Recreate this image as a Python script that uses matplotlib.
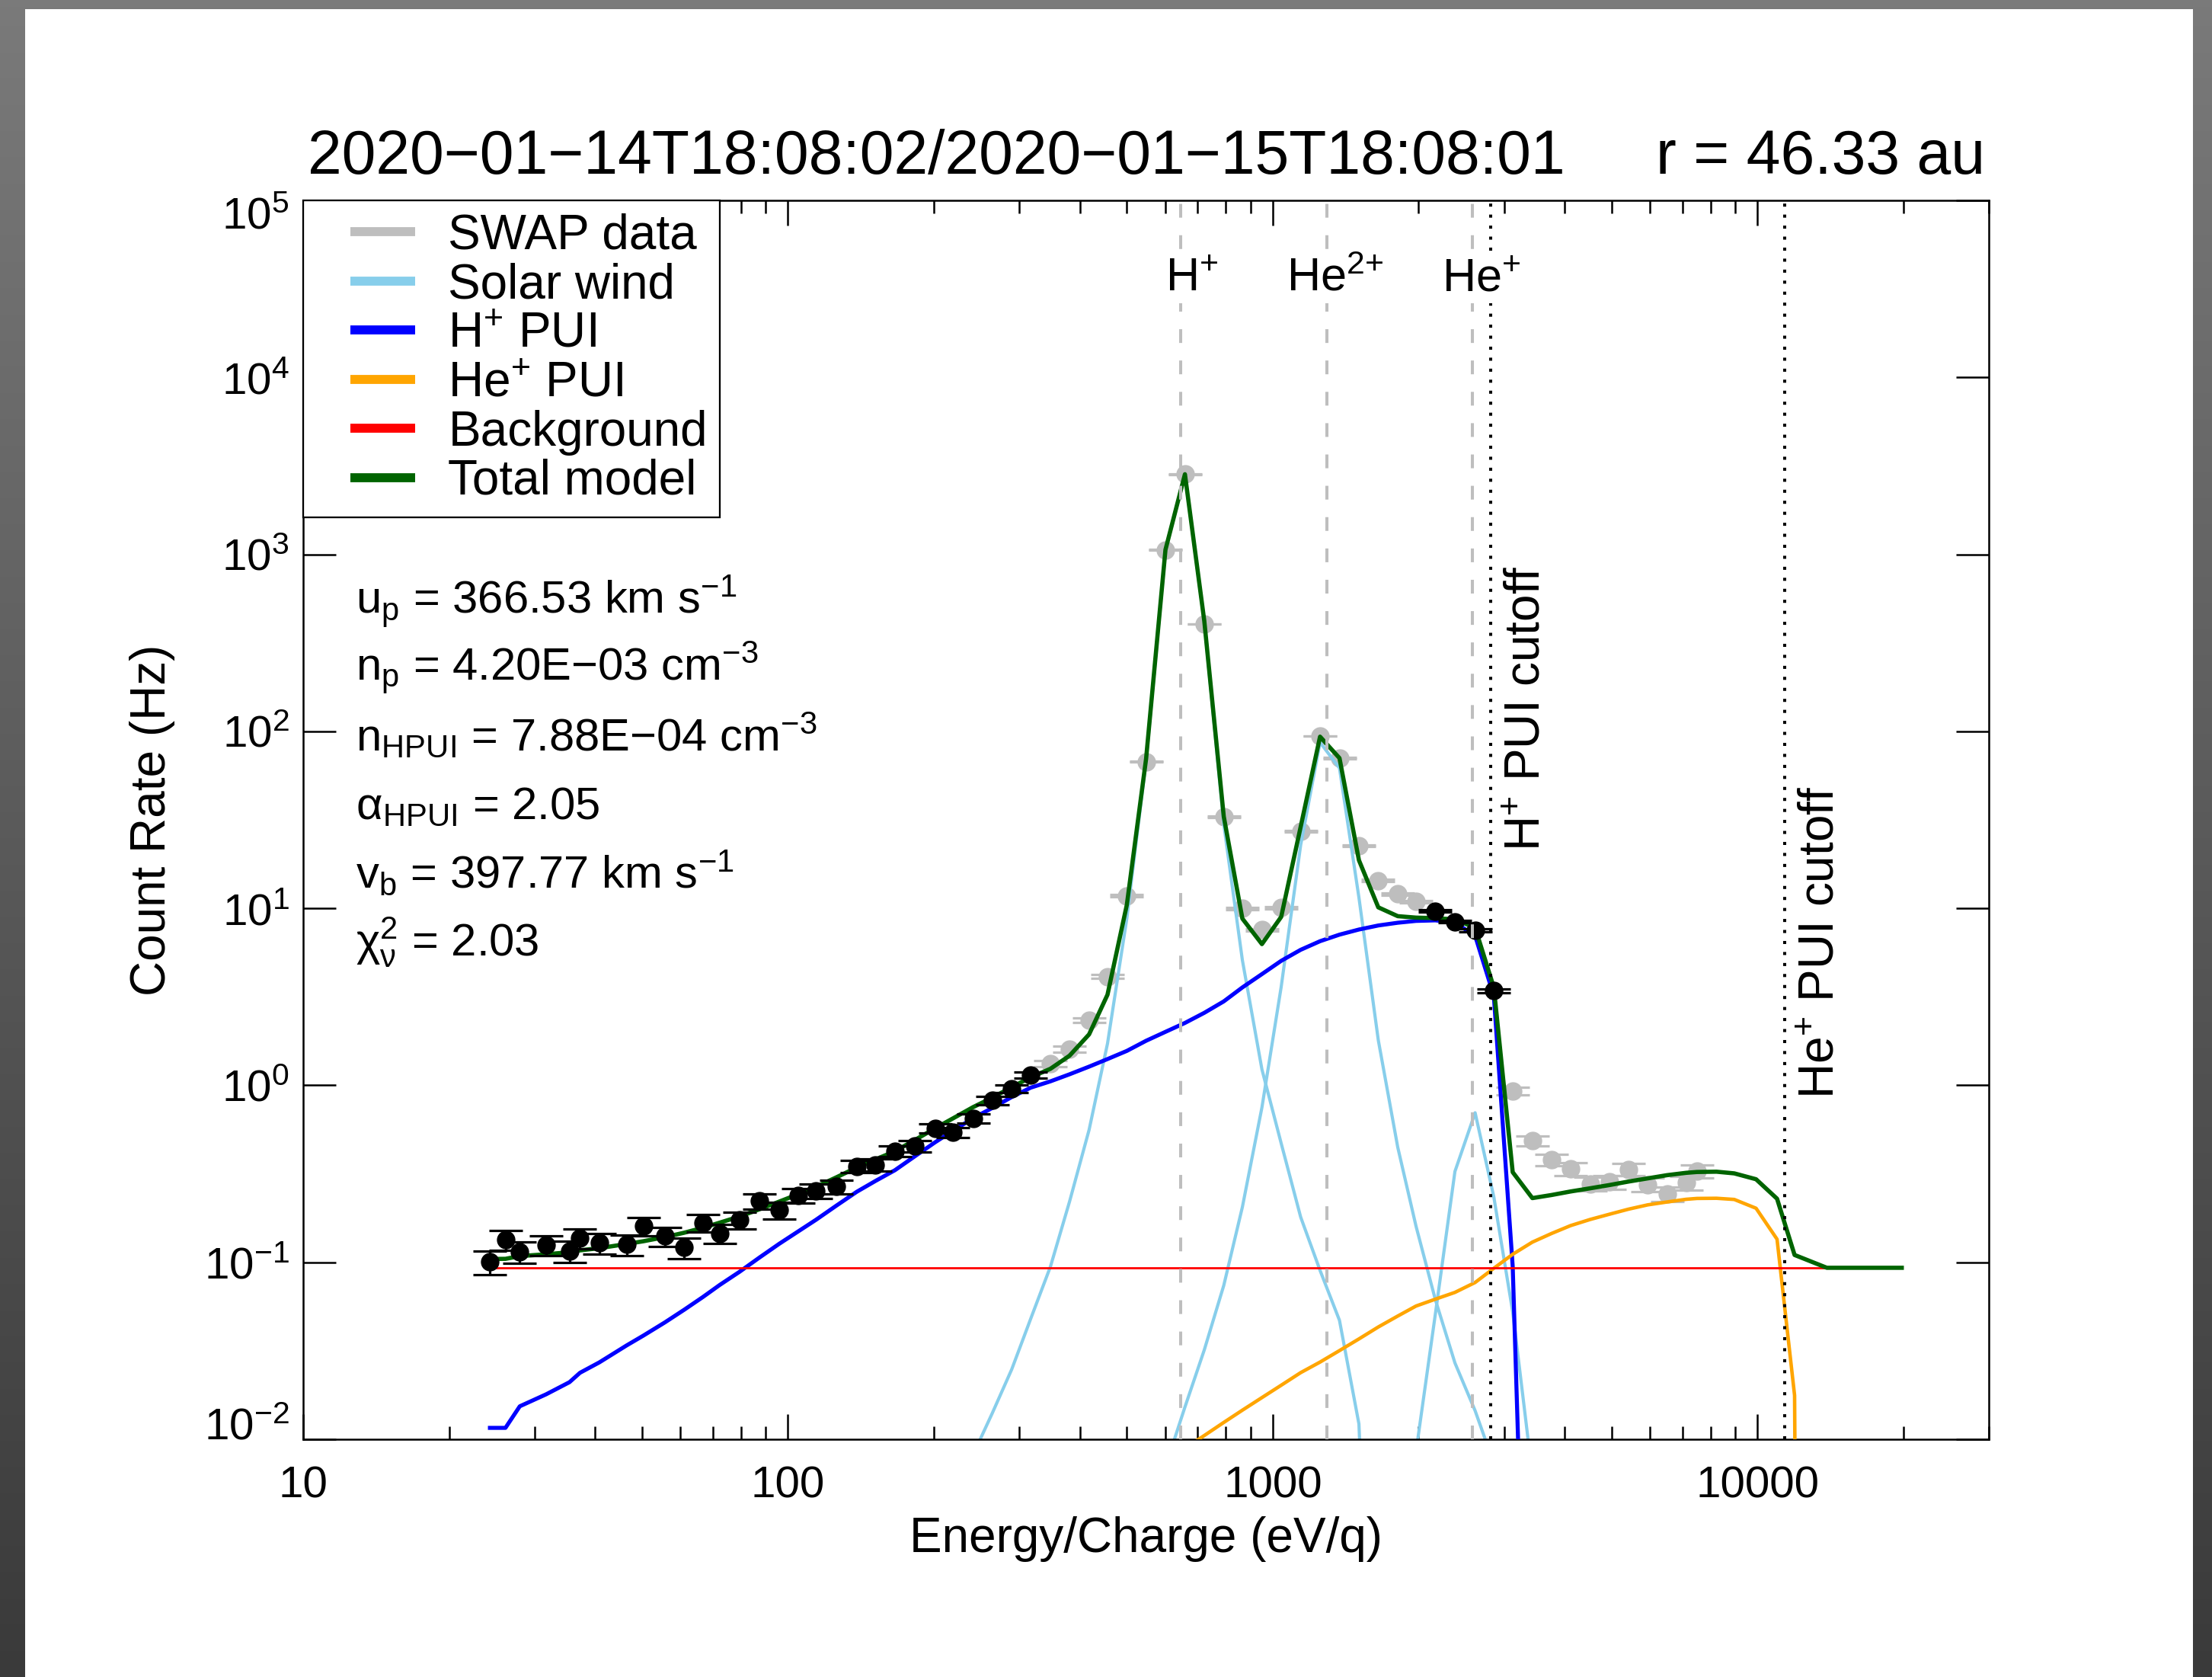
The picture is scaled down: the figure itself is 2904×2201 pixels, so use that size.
import numpy as np
import matplotlib
matplotlib.use("Agg")
import matplotlib.pyplot as plt
from matplotlib.lines import Line2D
from matplotlib.legend_handler import HandlerLine2D
from matplotlib.patches import Rectangle
from matplotlib.colors import LinearSegmentedColormap
from matplotlib.ticker import LogLocator, NullLocator, NullFormatter
from matplotlib.transforms import ScaledTranslation

plt.rcParams['font.family'] = ['Liberation Sans', 'DejaVu Sans']
plt.rcParams['mathtext.fontset'] = 'custom'
plt.rcParams['mathtext.rm'] = 'Liberation Sans'
plt.rcParams['mathtext.it'] = 'Liberation Sans:italic'
plt.rcParams['mathtext.bf'] = 'Liberation Sans:bold'
plt.rcParams['mathtext.default'] = 'regular'
plt.rcParams['lines.scale_dashes'] = False

nan = np.nan

# ---------------- data (SWAP count rates) ----------------
energy = [24.28, 26.14, 27.98, 31.71, 35.43, 37.24, 40.83, 46.47, 50.30, 55.70,
          61.07, 66.74, 72.34, 79.47, 87.18, 95.94, 105.2, 114.3, 125.8, 138.7,
          151.5, 166.2, 182.8, 201.2, 218.9, 241.0, 263.8, 289.4, 316.8, 347.9,
          380.9, 418.0, 456.2, 500.2, 548.0, 600.8, 659.0, 722.5, 792.5, 865.7,
          950.0, 1041, 1142, 1252, 1373, 1506, 1651, 1811, 1975, 2165,
          2376, 2615, 2858, 3126, 3432, 3760, 4116, 4517, 4946, 5414,
          5936, 6509, 7126, 7503]

count_rate = [0.1003, 0.1345, 0.1144, 0.1251, 0.1159, 0.1368, 0.1285, 0.1260, 0.1603, 0.1405,
              0.1210, 0.1672, 0.1452, 0.1730, 0.2216, 0.1967, 0.2380, 0.2520, 0.2675, 0.3480,
              0.3560, 0.4245, 0.4535, 0.5715, 0.5437, 0.6523, 0.8220, 0.9535, 1.143, 1.327,
              1.601, 2.342, 4.120, 11.76, 67.5, 1062, 2836, 405, 33.0, 9.99,
              7.56, 10.08, 27.3, 94.1, 70.6, 22.6, 14.36, 12.04, 10.92, 9.65,
              8.40, 7.51, 3.43, 0.926, 0.486, 0.380, 0.337, 0.277, 0.284, 0.335,
              0.275, 0.244, 0.281, 0.327]

count_err = [0.0149, 0.0172, 0.0159, 0.0166, 0.0160, 0.0174, 0.0168, 0.0167, 0.0188, 0.0176,
             0.0163, 0.0192, 0.0179, 0.0195, 0.0221, 0.0208, 0.0229, 0.0236, 0.0243, 0.0277,
             0.0280, 0.0306, 0.0317, 0.0355, 0.0347, 0.0380, 0.0426, 0.0459, 0.0502, 0.0541,
             0.0595, 0.0719, 0.0954, 0.161, 0.386, 1.53, 2.50, 0.946, 0.270, 0.149,
             0.129, 0.149, 0.246, 0.456, 0.395, 0.223, 0.178, 0.163, 0.155, 0.146,
             0.136, 0.129, 0.087, 0.0452, 0.0328, 0.0290, 0.0273, 0.0248, 0.0250, 0.0272,
             0.0247, 0.0232, 0.0249, 0.0269]

used_in_fit = [1, 1, 1, 1, 1, 1, 1, 1, 1, 1,
               1, 1, 1, 1, 1, 1, 1, 1, 1, 1,
               1, 1, 1, 1, 1, 1, 1, 1, 1, 0,
               0, 0, 0, 0, 0, 0, 0, 0, 0, 0,
               0, 0, 0, 0, 0, 0, 0, 0, 0, 1,
               1, 1, 1, 0, 0, 0, 0, 0, 0, 0,
               0, 0, 0, 0]

# ---------------- model curves ----------------
model_energy_tail = [8230, 8954, 9931, 10972, 11925, 13900, 19840]

sw_hplus = [nan, nan, nan, nan, nan, nan, nan, nan, nan, nan,
            nan, nan, nan, nan, nan, nan, nan, nan, nan, nan,
            nan, nan, nan, 0.002, 0.0045, 0.0082, 0.014, 0.0248, 0.048, 0.0945,
            0.22, 0.56, 1.72, 8.8, 68, 1060, 2830, 417, 29.9, 5.1,
            1.23, 0.47, 0.18, 0.09, 0.047, 0.0122, 2e-5, nan, nan, nan,
            nan, nan, nan, nan, nan, nan, nan, nan, nan, nan,
            nan, nan, nan, nan,
            nan, nan, nan, nan, nan, nan, nan]

sw_he2plus = [nan, nan, nan, nan, nan, nan, nan, nan, nan, nan,
              nan, nan, nan, nan, nan, nan, nan, nan, nan, nan,
              nan, nan, nan, nan, nan, nan, nan, nan, nan, nan,
              nan, nan, nan, nan, 0.003, 0.007, 0.0152, 0.032, 0.074, 0.205,
              0.75, 3.6, 22.8, 86.6, 62, 11.5, 1.8, 0.446, 0.16, 0.0615,
              0.027, 0.0145, 0.0073, nan, nan, nan, nan, nan, nan, nan,
              nan, nan, nan, nan,
              nan, nan, nan, nan, nan, nan, nan]

sw_heplus = [nan, nan, nan, nan, nan, nan, nan, nan, nan, nan,
             nan, nan, nan, nan, nan, nan, nan, nan, nan, nan,
             nan, nan, nan, nan, nan, nan, nan, nan, nan, nan,
             nan, nan, nan, nan, nan, nan, nan, nan, nan, nan,
             nan, nan, nan, nan, nan, nan, nan, 0.003, 0.0085, 0.051,
             0.326, 0.70, 0.234, 0.0525, 0.0063, 0.0006, nan, nan, nan, nan,
             nan, nan, nan, nan,
             nan, nan, nan, nan, nan, nan, nan]

hplus_pui = [0.0116, 0.0116, 0.01536, 0.01795, 0.02102, 0.02375, 0.0272, 0.0339, 0.0385, 0.0457,
             0.0539, 0.0636, 0.0745, 0.0884, 0.106, 0.1272, 0.150, 0.174, 0.2088, 0.2504,
             0.288, 0.3313, 0.3975, 0.4767, 0.553, 0.6523, 0.7443, 0.858, 0.970, 1.053,
             1.154, 1.275, 1.407, 1.565, 1.785, 2.005, 2.251, 2.568, 2.98, 3.573,
             4.25, 5.05, 5.83, 6.52, 7.10, 7.59, 8.0, 8.29, 8.49, 8.55,
             8.3, 7.0, 3.2, 0.095, 2.5e-5, nan, nan, nan, nan, nan,
             nan, nan, nan, nan,
             nan, nan, nan, nan, nan, nan, nan]

heplus_pui = [nan, nan, nan, nan, nan, nan, nan, nan, nan, nan,
              nan, nan, nan, nan, nan, nan, nan, nan, nan, nan,
              nan, nan, nan, nan, nan, nan, nan, nan, nan, nan,
              nan, nan, nan, nan, nan, 0.0076, 0.0089, 0.0105, 0.01245, 0.0146,
              0.0172, 0.0202, 0.0238, 0.0273, 0.0317, 0.0369, 0.0431, 0.0497, 0.0566, 0.0619,
              0.0676, 0.0769, 0.0925, 0.111, 0.130, 0.1455, 0.1612, 0.1746, 0.1868, 0.1995,
              0.2111, 0.2192, 0.2270, 0.2295,
              0.2300, 0.2265, 0.202, 0.135, 0.0177, 1e-30, nan]

background_level = 0.093

total_model = [0.1044, 0.1046, 0.1084, 0.111, 0.114, 0.1168, 0.1202, 0.1269, 0.1315, 0.1387,
               0.1469, 0.1566, 0.1675, 0.1814, 0.199, 0.2202, 0.243, 0.267, 0.3018, 0.3434,
               0.381, 0.424, 0.491, 0.572, 0.650, 0.753, 0.851, 0.976, 1.11, 1.24,
               1.47, 1.94, 3.25, 10.5, 70, 1062, 2836, 420, 33.0, 8.75,
               6.28, 8.95, 28.9, 93.3, 70.6, 18.7, 10.13, 9.03, 8.86, 8.8,
               8.66, 7.77, 3.57, 0.323, 0.2305, 0.240, 0.2513, 0.2619, 0.2731, 0.2858,
               0.298, 0.3107, 0.3203, 0.3238,
               0.325, 0.318, 0.2946, 0.2287, 0.110, 0.0931, 0.0931]

ion_energies = [646, 1292, 2584]
ion_labels = ['H$^{{+}}$', 'He$^{2{+}}$', 'He$^{{+}}$']
cutoff_energies = [2818, 11370]
cutoff_labels = ['H$^{{+}}$ PUI cutoff', 'He$^{{+}}$ PUI cutoff']

xtick_values = [10, 100, 1000, 10000]
xtick_labels = ['10', '100', '1000', '10000']
ytick_values = [1e-2, 1e-1, 1e0, 1e1, 1e2, 1e3, 1e4, 1e5]
ytick_labels = ['$10^{-2}$', '$10^{-1}$', '$10^{0}$', '$10^{1}$',
                '$10^{2}$', '$10^{3}$', '$10^{4}$', '$10^{5}$']

title_left = '2020\u221201\u221214T18:08:02/2020\u221201\u221215T18:08:01'
title_right = 'r = 46.33 au'
fit_params = ['u$_{p}$ = 366.53 km s$^{-1}$',
              'n$_{p}$ = 4.20E\u221203 cm$^{-3}$',
              'n$_{HPUI}$ = 7.88E\u221204 cm$^{-3}$',
              '\u03b1$_{HPUI}$ = 2.05',
              'v$_{b}$ = 397.77 km s$^{-1}$',
              '$\\chi^{2}_{\\nu}$ = 2.03']

C_GRAY = '#BEBEBE'
C_SW = '#87CEEB'
C_HPUI = '#0000FF'
C_HEPUI = '#FFA500'
C_BG = '#FF0000'
C_TOT = '#006400'

# ---------------- figure ----------------
W, H = 2904, 2201
fig = plt.figure(figsize=(W / 100, H / 100), dpi=100)

def fx(px):
    return px / W

def fy(py):
    return 1 - py / H

# screenshot-like dark border
bgax = fig.add_axes([0, 0, 1, 1], zorder=-10)
grad = np.linspace(0, 1, 256)[:, None]
cmap = LinearSegmentedColormap.from_list('border', ['#7a7a7a', '#3a3a3a'])
bgax.imshow(grad, aspect='auto', cmap=cmap, extent=[0, 1, 0, 1])
bgax.add_patch(Rectangle((fx(33), 0), fx(2879) - fx(33), fy(12), facecolor='white',
                         edgecolor='none', transform=bgax.transAxes))
bgax.set_xlim(0, 1)
bgax.set_ylim(0, 1)
bgax.axis('off')

AX_L, AX_R, AX_T, AX_B = 398, 2611, 263, 1889
ax = fig.add_axes([fx(AX_L), fy(AX_B), (AX_R - AX_L) / W, (AX_B - AX_T) / H])
ax.set_xscale('log')
ax.set_yscale('log')
ax.set_xlim(10, 30000)
ax.set_ylim(1e-2, 1e5)

E = np.array(energy, dtype=float)
R = np.array(count_rate, dtype=float)
ERR = np.array(count_err, dtype=float)
FIT = np.array(used_in_fit, dtype=bool)
ME = np.array(energy + model_energy_tail, dtype=float)

ax.errorbar(E[~FIT], R[~FIT], yerr=ERR[~FIT], fmt='o', color=C_GRAY, ms=16.5,
            mec=C_GRAY, ecolor=C_GRAY, elinewidth=2.3, capsize=15.8, capthick=2.3, zorder=1)

for sw in (sw_hplus, sw_he2plus, sw_heplus):
    ax.plot(ME, np.array(sw, dtype=float), color=C_SW, lw=3.0, zorder=2)
ax.plot(ME, np.array(hplus_pui, dtype=float), color=C_HPUI, lw=3.8, zorder=3)
ax.plot(ME, np.array(heplus_pui, dtype=float), color=C_HEPUI, lw=3.3, zorder=3)
ax.plot([ME[0], ME[-1]], [background_level, background_level], color=C_BG, lw=2.0, zorder=3)
ax.plot(ME, np.array(total_model, dtype=float), color=C_TOT, lw=4.0, zorder=4)

ax.errorbar(E[FIT], R[FIT], yerr=ERR[FIT], fmt='o', color='black', ms=16.5,
            mec='black', ecolor='black', elinewidth=2.3, capsize=15.8, capthick=2.3, zorder=5)

for e in ion_energies:
    ax.axvline(e, color=C_GRAY, lw=2.9, ls=(0, (13, 16.6)), dash_capstyle='butt', zorder=6)
for e in cutoff_energies:
    ax.axvline(e, color='black', lw=2.9, ls=(0, (2.9, 7.5)), dash_capstyle='butt', zorder=6)

# ticks
ax.set_xticks(xtick_values, labels=xtick_labels)
ax.xaxis.set_minor_locator(LogLocator(base=10, subs=np.arange(2, 10), numticks=100))
ax.xaxis.set_minor_formatter(NullFormatter())
ax.set_yticks(ytick_values, labels=ytick_labels)
ax.yaxis.set_minor_locator(NullLocator())
ax.tick_params(axis='both', which='both', direction='in', top=True, right=True,
               width=1.8, labelsize=42, color='black')
ax.tick_params(axis='x', which='major', length=23.8, pad=25)
ax.tick_params(axis='x', which='minor', length=12.2)
ax.tick_params(axis='y', which='major', length=31, pad=13)
for s in ax.spines.values():
    s.set_linewidth(1.8)
ylabs = ax.get_yticklabels()
ylabs[0].set_transform(ylabs[0].get_transform() +
                       ScaledTranslation(0, 15 / 72, fig.dpi_scale_trans))
ylabs[-1].set_transform(ylabs[-1].get_transform() +
                        ScaledTranslation(0, -11 / 72, fig.dpi_scale_trans))

ax.set_xlabel('Energy/Charge (eV/q)', fontsize=46)
ax.xaxis.label.set_va('baseline')
ax.xaxis.set_label_coords(0.5, (AX_B - 2037) / (AX_B - AX_T))
ax.set_ylabel('Count Rate (Hz)', fontsize=46)
ax.yaxis.label.set_va('baseline')
ax.yaxis.set_label_coords((217 - AX_L) / (AX_R - AX_L), 0.5)

# title
fig.text(fx(404), fy(228), title_left, fontsize=58, ha='left', va='baseline')
fig.text(fx(2606), fy(228), title_right, fontsize=58, ha='right', va='baseline')

# fit parameters
for txt, yb in zip(fit_params, [805, 893, 985, 1075, 1165, 1255]):
    fig.text(fx(467), fy(yb), txt, fontsize=43, ha='left', va='baseline')

# ion labels
for txt, xpx in zip(ion_labels, [1530, 1689, 1893]):
    ax.text(fx(xpx), fy(382), txt, transform=fig.transFigure, fontsize=44,
            ha='left', va='baseline', zorder=7,
            bbox=dict(boxstyle='square,pad=0.05', facecolor='white', edgecolor='none'))

# cutoff labels
for txt, (xb, ys) in zip(cutoff_labels, [(2021, 1117), (2408, 1442)]):
    ax.text(fx(xb), fy(ys), txt, transform=fig.transFigure, fontsize=46, rotation=90,
            rotation_mode='anchor', ha='left', va='baseline', zorder=7)

# legend
class PaddedLineHandler(HandlerLine2D):
    def __init__(self, lead, **kw):
        super().__init__(**kw)
        self.lead = lead

    def create_artists(self, legend, orig_handle, xdescent, ydescent, width, height,
                       fontsize, trans):
        lead = self.lead * fontsize
        return super().create_artists(legend, orig_handle, xdescent - lead, ydescent,
                                      width - lead, height, fontsize, trans)

legend_names = ['SWAP data', 'Solar wind', 'H$^{{+}}$ PUI', 'He$^{{+}}$ PUI', 'Background', 'Total model']
legend_colors = [C_GRAY, C_SW, C_HPUI, C_HEPUI, C_BG, C_TOT]
handles = [Line2D([], [], color=c, lw=8.5, solid_capstyle='butt') for c in legend_colors]
leg = ax.legend(handles, legend_names, loc='upper left', bbox_to_anchor=(0, 1),
                borderaxespad=0, fontsize=46, handlelength=2.04, handletextpad=0.68,
                borderpad=0.26, labelspacing=0.07, fancybox=False, framealpha=1,
                edgecolor='black', handler_map={Line2D: PaddedLineHandler(0.71)})
leg.get_frame().set_linewidth(1.65)
leg.set_zorder(10)

fig.savefig('out.png', dpi=100)
